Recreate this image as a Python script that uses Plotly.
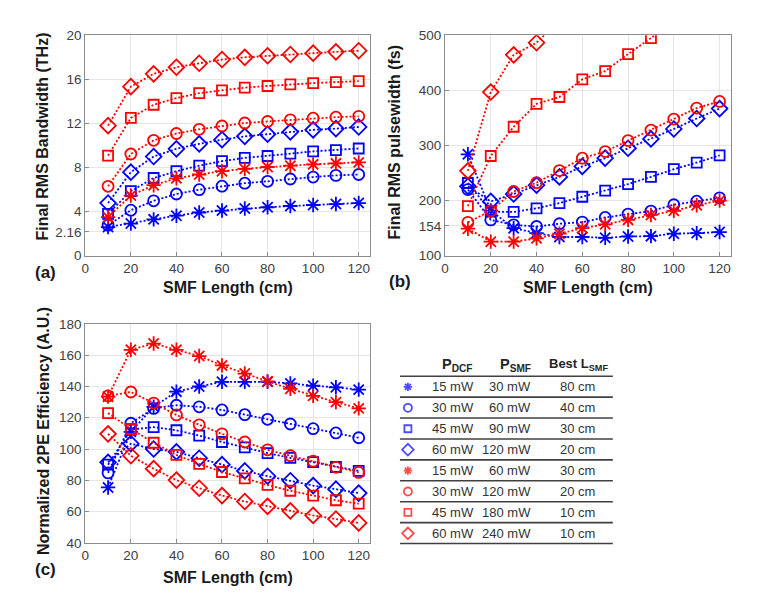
import plotly.graph_objects as go

# SMF length (cm), shared by all three panels
L = [10, 20, 30, 40, 50, 60, 70, 80, 90, 100, 110, 120]

# (a) final RMS bandwidth (THz)
bw_b15 = [2.6, 2.92, 3.3, 3.63, 3.92, 4.1, 4.28, 4.4, 4.51, 4.6, 4.69, 4.78]
bw_b30 = [2.77, 4.13, 4.98, 5.6, 5.99, 6.31, 6.58, 6.75, 6.96, 7.14, 7.29, 7.37]
bw_b45 = [3.8, 5.87, 7.05, 7.67, 8.17, 8.58, 8.88, 9.05, 9.26, 9.47, 9.58, 9.73]
bw_b60 = [4.78, 7.58, 9.0, 9.7, 10.15, 10.53, 10.83, 11.03, 11.24, 11.42, 11.53, 11.68]
bw_r15 = [3.5, 5.46, 6.4, 7.02, 7.37, 7.67, 7.88, 8.05, 8.17, 8.29, 8.38, 8.47]
bw_r30 = [6.3, 9.23, 10.47, 11.09, 11.47, 11.77, 12.04, 12.18, 12.33, 12.48, 12.57, 12.65]
bw_r45 = [9.08, 12.5, 13.7, 14.3, 14.75, 15.0, 15.25, 15.4, 15.55, 15.66, 15.75, 15.84]
bw_r60 = [11.8, 15.34, 16.5, 17.1, 17.46, 17.8, 18.0, 18.14, 18.26, 18.38, 18.5, 18.6]

# (b) final RMS pulsewidth (fs)
pw_b15 = [284, 182, 150, 141, 134, 134, 132.5, 135, 135.5, 140, 141, 143]
pw_b30 = [220, 165, 156, 153, 158, 161, 169.5, 175.5, 181, 192.5, 199, 205]
pw_b45 = [232, 180, 179.5, 186, 195.5, 207, 218, 230, 243, 257, 269, 282]
pw_b60 = [226, 198.5, 212, 228, 243, 262, 277, 295, 312, 330, 349, 367]
pw_r15 = [149, 125.5, 125.5, 131.5, 140, 150, 157, 165, 174, 181.5, 191.5, 200]
pw_r30 = [160.5, 181.5, 216.5, 232.5, 254.5, 277, 289, 309, 328, 348, 368, 380]
pw_r45 = [190, 281, 334, 375.5, 388, 420, 435, 466, 495, 525]
pw_r60 = [254, 397, 464.5, 486.5, 527]

# (c) normalized 2PE efficiency (A.U.)
ef_b15 = [75.4, 111, 127, 136.7, 140, 143, 143, 143, 142, 140.5, 139.5, 138]
ef_b30 = [84.7, 116.5, 126, 128, 127, 125, 122, 119, 116, 113, 110.3, 107.2]
ef_b45 = [90, 112.4, 114, 112, 108.6, 104.5, 101, 97.4, 94.3, 91.6, 88.5, 86]
ef_b60 = [91.5, 103.4, 100, 98.2, 94.1, 90, 86, 82.6, 79.7, 76.6, 74.3, 71.8]
ef_r15 = [133.5, 163.5, 167.5, 163.5, 159.5, 153.5, 148.3, 143.3, 138.5, 134, 130, 126]
ef_r30 = [134, 136.5, 129.4, 121.8, 115.5, 109.7, 104.5, 99.5, 95.7, 92.2, 88.3, 85]
ef_r45 = [123, 112.8, 104, 96.2, 90.5, 85.3, 81.2, 77, 73.3, 70.2, 67.2, 65]
ef_r60 = [109.7, 95.7, 87.4, 80.1, 74.9, 70.2, 66.4, 63.3, 60.4, 57.5, 55.2, 52.7]

# legend table
pdcf = ["15 mW", "30 mW", "45 mW", "60 mW", "15 mW", "30 mW", "45 mW", "60 mW"]
psmf = ["30 mW", "60 mW", "90 mW", "120 mW", "60 mW", "120 mW", "180 mW", "240 mW"]
best = ["80 cm", "40 cm", "30 cm", "20 cm", "30 cm", "20 cm", "10 cm", "10 cm"]

colors = ["#0000ff"] * 4 + ["#ff0000"] * 4
symbols = ["asterisk-open", "circle-open", "square-open", "diamond-open"] * 2
sizes = [12, 11, 10, 12] * 2

bw = [bw_b15, bw_b30, bw_b45, bw_b60, bw_r15, bw_r30, bw_r45, bw_r60]
pw = [pw_b15, pw_b30, pw_b45, pw_b60, pw_r15, pw_r30, pw_r45, pw_r60]
ef = [ef_b15, ef_b30, ef_b45, ef_b60, ef_r15, ef_r30, ef_r45, ef_r60]

W, H = 775, 609
FONT = "Liberation Sans, Arial, sans-serif"


def px(x):
    return x / W


def py(y):
    return 1 - y / H


fig = go.Figure()

for panel, (xa, ya) in zip([bw, pw, ef], [("x", "y"), ("x2", "y2"), ("x3", "y3")]):
    for i, vals in enumerate(panel):
        fig.add_trace(go.Scatter(
            x=L[:len(vals)], y=vals, xaxis=xa, yaxis=ya,
            mode="lines+markers",
            line=dict(color=colors[i], width=1.8, dash="2px,2px"),
            marker=dict(symbol=symbols[i], size=sizes[i], color=colors[i],
                        line=dict(color=colors[i], width=1.8)),
            showlegend=False,
        ))

# table symbols on a hidden pixel axis covering only the table box
tx0, tx1, ty0, ty1 = 396, 614, 355, 560
row0, rowh = 389.5, 21.45
fig.add_trace(go.Scatter(
    x=[406] * 8, y=[row0 + i * rowh for i in range(8)], xaxis="x4", yaxis="y4",
    mode="markers",
    marker=dict(symbol=symbols, size=[7, 8, 7, 9] * 2, color=colors,
                line=dict(color=colors, width=1.8)),
    showlegend=False,
))

axis_common = dict(
    showline=True, mirror=True, linecolor="#8c8c8c", linewidth=1,
    showgrid=True, gridcolor="#e5e5e5", gridwidth=1,
    ticks="inside", ticklen=4, tickcolor="#8c8c8c",
    tickfont=dict(family=FONT, size=13.5, color="#404040"),
    zeroline=False,
)
xticks = dict(range=[0, 125], tickvals=[0, 20, 40, 60, 80, 100, 120], **axis_common)

fig.update_layout(
    width=W, height=H, margin=dict(l=0, r=0, t=0, b=0),
    paper_bgcolor="white", plot_bgcolor="rgba(0,0,0,0)",
    xaxis=dict(domain=[px(81.7), px(368)], anchor="y", **xticks),
    yaxis=dict(domain=[py(255), py(29)], anchor="x", range=[0, 20],
               tickvals=[0, 2.16, 4, 8, 12, 16, 20], ticktext=["0", "2.16", "4", "8", "12", "16", "20"],
               **axis_common),
    xaxis2=dict(domain=[px(443.3), px(730.8)], anchor="y2", **xticks),
    yaxis2=dict(domain=[py(255), py(29)], anchor="x2", range=[100, 500],
                tickvals=[100, 154, 200, 300, 400, 500], **axis_common),
    xaxis3=dict(domain=[px(81.7), px(368)], anchor="y3", **xticks),
    yaxis3=dict(domain=[py(549.3), py(325)], anchor="x3", range=[40, 180],
                tickvals=[40, 60, 80, 100, 120, 140, 160, 180], **axis_common),
    xaxis4=dict(domain=[px(tx0), px(tx1)], range=[tx0, tx1], visible=False, anchor="y4"),
    yaxis4=dict(domain=[py(ty1), py(ty0)], range=[ty1, ty0], visible=False, anchor="x4"),
)

title_font = dict(family=FONT, size=16, color="#1a1a1a")
ann = []
# axis titles and panel labels
for x, y, t in [(225, 288, "SMF Length (cm)"), (587, 288, "SMF Length (cm)"), (225, 585, "SMF Length (cm)")]:
    ann.append(dict(x=px(x), y=py(y), text="<b>%s</b>" % t, font=title_font))
for x, y, t in [(39, 133, "Final RMS Bandwidth (THz)"), (393, 138, "Final RMS pulsewidth (fs)"),
                (39, 435, "Normalized 2PE Efficiency (A.U.)")]:
    ann.append(dict(x=px(x), y=py(y), text="<b>%s</b>" % t, textangle=-90, font=title_font))
for x, y, t in [(42, 272, "(a)"), (398, 281, "(b)"), (42, 577, "(c)")]:
    ann.append(dict(x=px(x), y=py(y), text="<b>%s</b>" % t,
                    font=dict(family=FONT, size=17, color="#1a1a1a")))

# table header
hfont = dict(family=FONT, size=14.5, color="#262626")
ann.append(dict(x=px(455), y=py(367), text="<b>P<sub>DCF</sub></b>", font=hfont))
ann.append(dict(x=px(532), y=py(367), text="<b>P<sub>SMF</sub></b>", xanchor="right", font=hfont))
ann.append(dict(x=px(577), y=py(367), text="<b>Best L<sub>SMF</sub></b>",
                font=dict(family=FONT, size=13, color="#262626")))

tfont = dict(family=FONT, size=13, color="#333333")
for i in range(8):
    y = row0 + i * rowh
    ann.append(dict(x=px(451), y=py(y), text=pdcf[i], font=tfont))
    ann.append(dict(x=px(532), y=py(y), text=psmf[i], xanchor="right", font=tfont))
    ann.append(dict(x=px(576), y=py(y), text=best[i], font=tfont))

for a in ann:
    a.setdefault("xanchor", "center")
    a.update(xref="paper", yref="paper", yanchor="middle", showarrow=False)
fig.update_layout(annotations=ann)

shapes = []
for i in range(9):
    y = 378.5 + i * rowh
    shapes.append(dict(type="line", xref="paper", yref="paper", x0=px(398), x1=px(612),
                       y0=py(y), y1=py(y), line=dict(color="#404040", width=1.6)))
fig.update_layout(shapes=shapes)

# drop the default page margin so the figure sits at the window's corner
fig.write_html("out.html", config={"displayModeBar": False},
               post_script="document.body.style.margin='0px';")
